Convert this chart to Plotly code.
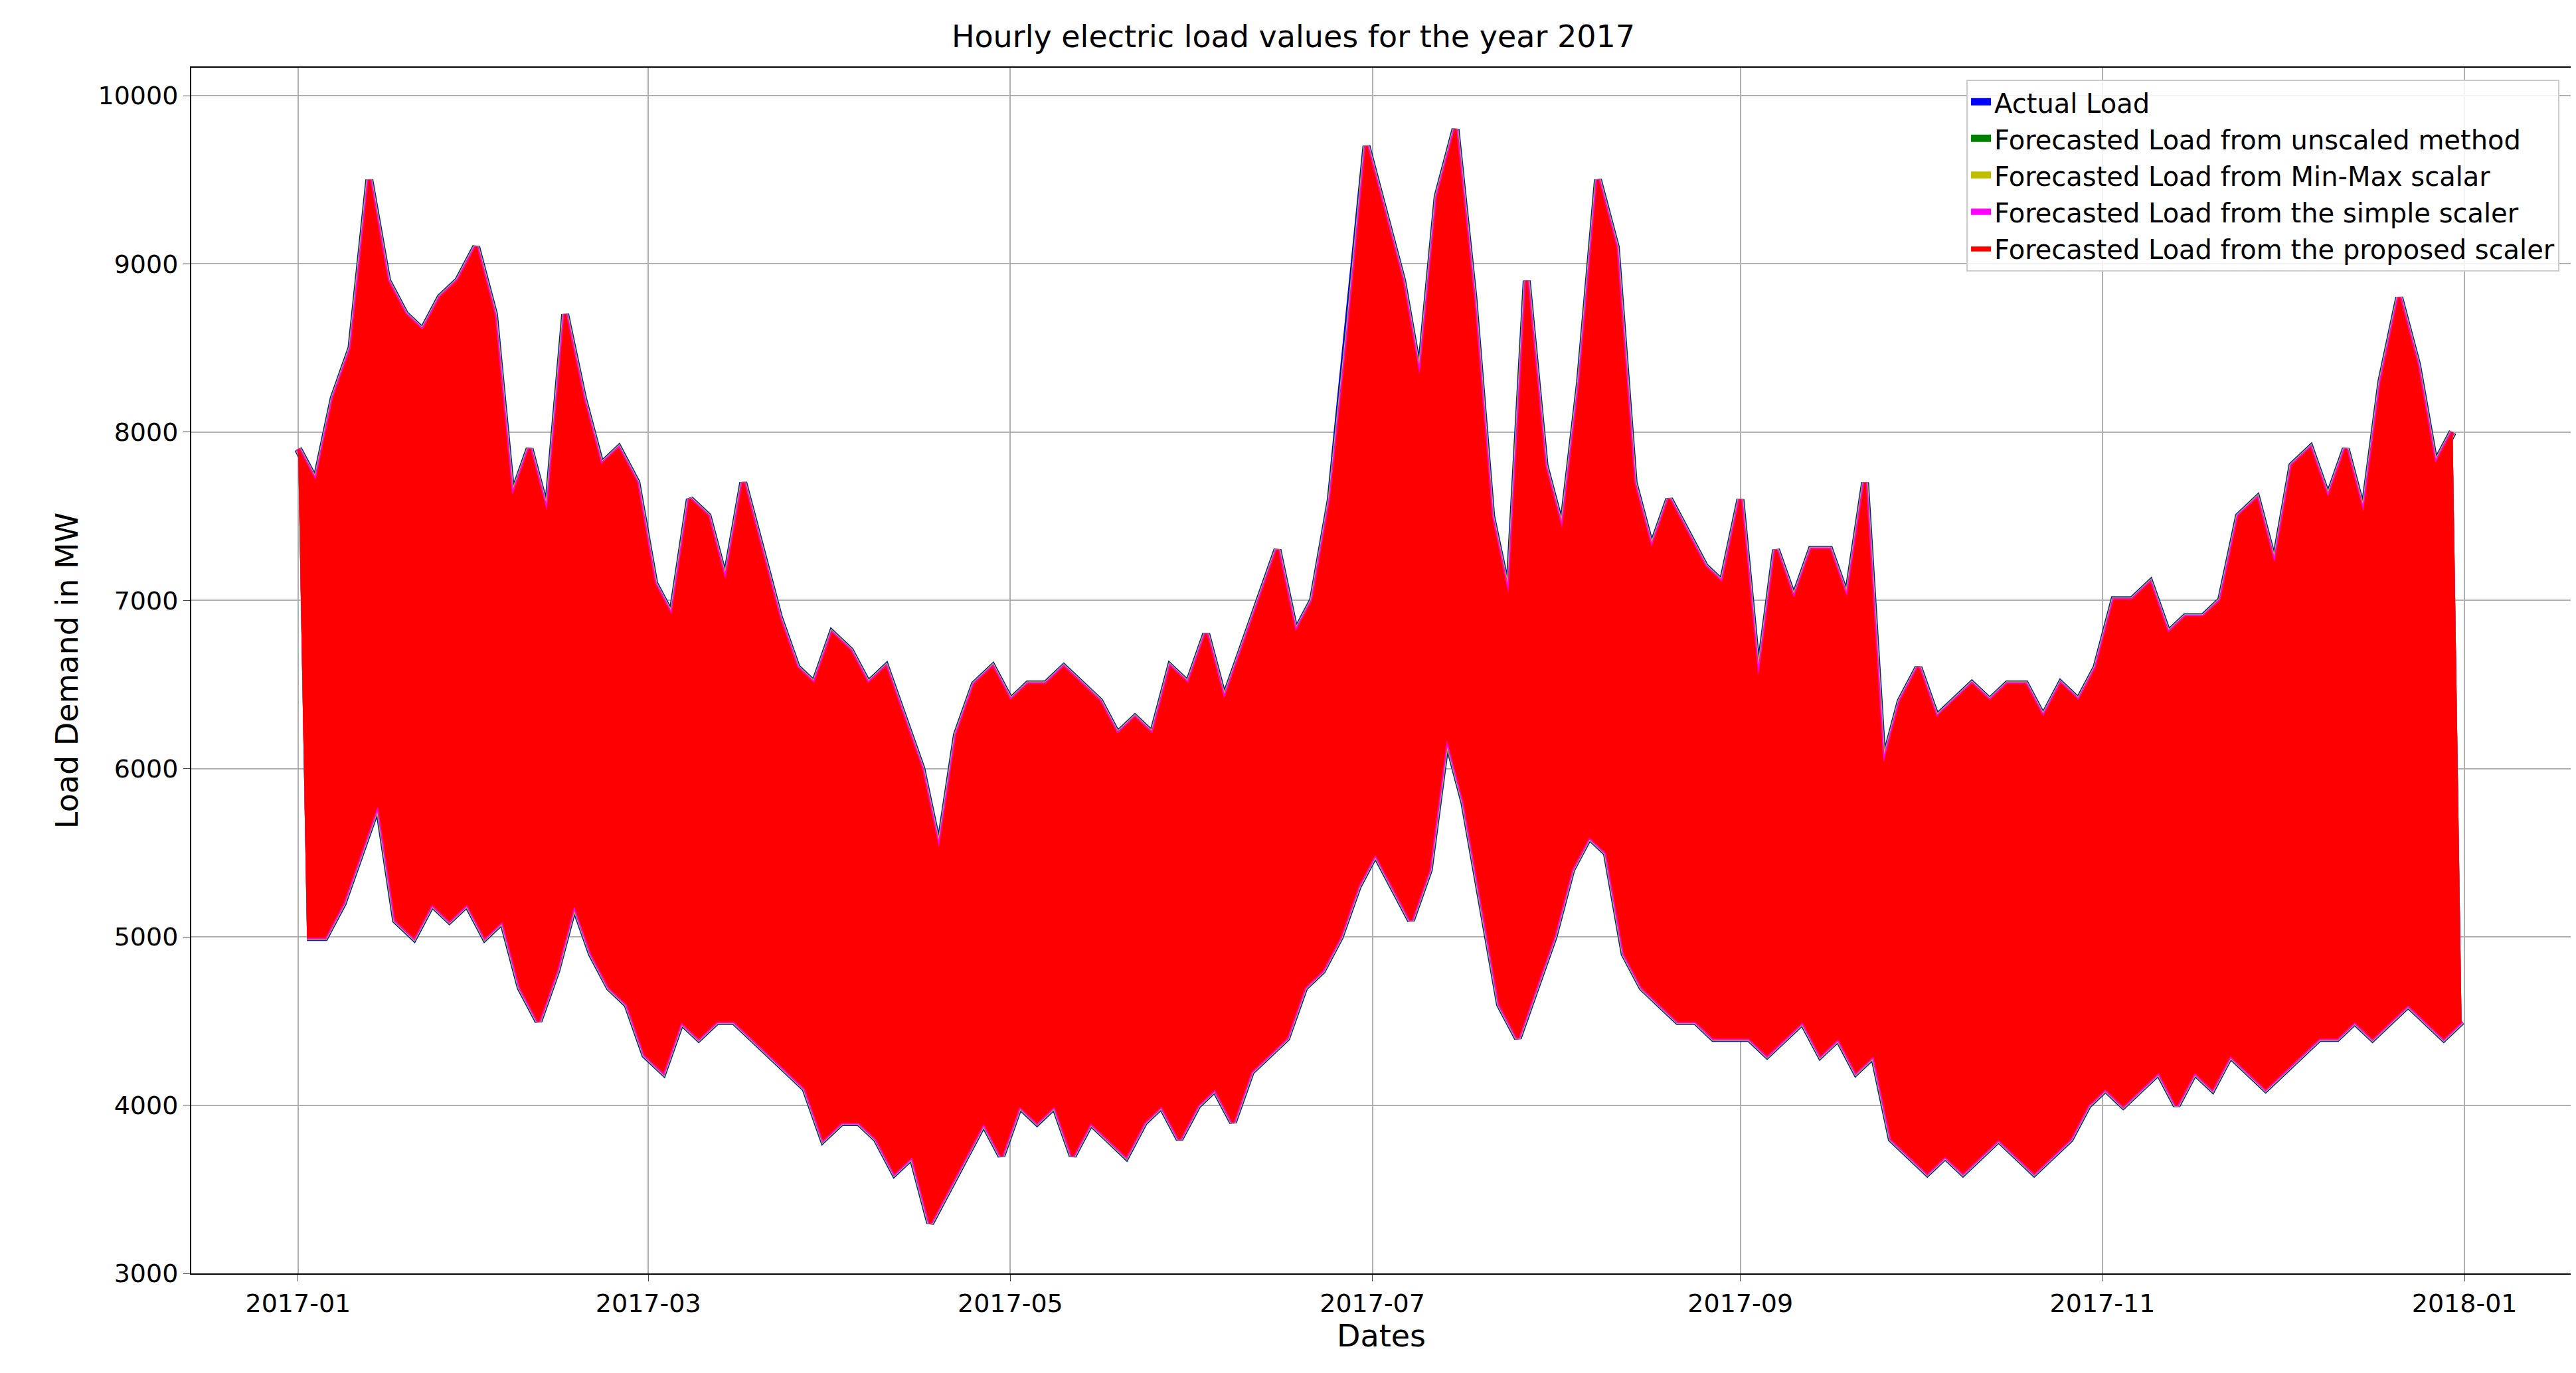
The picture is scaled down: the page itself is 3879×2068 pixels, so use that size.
import pandas as pd
import plotly.graph_objects as go

# daily peak loads, one value every 3 days starting 2017-01-01 (MW)
peak_load = [7900, 7700, 8200, 8500, 9500, 8900, 8700, 8600, 8800, 8900,
             9100, 8700, 7600, 7900, 7500, 8700, 8200, 7800, 7900, 7700,
             7100, 6900, 7600, 7500, 7100, 7700, 7300, 6900, 6600, 6500,
             6800, 6700, 6500, 6600, 6300, 6000, 5500, 6200, 6500, 6600,
             6400, 6500, 6500, 6600, 6500, 6400, 6200, 6300, 6200, 6600,
             6500, 6800, 6400, 6700, 7000, 7300, 6800, 7000, 7600, 8600,
             9700, 9300, 8900, 8300, 9400, 9800, 8800, 7500, 7000, 8900,
             7800, 7400, 8300, 9500, 9100, 7700, 7300, 7600, 7400, 7200,
             7100, 7600, 6500, 7300, 7000, 7300, 7300, 7000, 7700, 6000,
             6400, 6600, 6300, 6400, 6500, 6400, 6500, 6500, 6300, 6500,
             6400, 6600, 7000, 7000, 7100, 6800, 6900, 6900, 7000, 7500,
             7600, 7200, 7800, 7900, 7600, 7900, 7500, 8300, 8800, 8400,
             7800, 8000]

# nightly trough loads, one value every 3 days starting 2017-01-02 12:00 (MW)
trough_load = [5000, 5000, 5200, 5500, 5800, 5100, 5000, 5200, 5100, 5200,
               5000, 5100, 4700, 4500, 4800, 5200, 4900, 4700, 4600, 4300,
               4200, 4500, 4400, 4500, 4500, 4400, 4300, 4200, 4100, 3800,
               3900, 3900, 3800, 3600, 3700, 3300, 3500, 3700, 3900, 3700,
               4000, 3900, 4000, 3700, 3900, 3800, 3700, 3900, 4000, 3800,
               4000, 4100, 3900, 4200, 4300, 4400, 4700, 4800, 5000, 5300,
               5500, 5300, 5100, 5400, 6200, 5800, 5200, 4600, 4400, 4700,
               5000, 5400, 5600, 5500, 4900, 4700, 4600, 4500, 4500, 4400,
               4400, 4400, 4300, 4400, 4500, 4300, 4400, 4200, 4300, 3800,
               3700, 3600, 3700, 3600, 3700, 3800, 3700, 3600, 3700, 3800,
               4000, 4100, 4000, 4100, 4200, 4000, 4200, 4100, 4300, 4200,
               4100, 4200, 4300, 4400, 4400, 4500, 4400, 4500, 4600, 4500,
               4400, 4500]

series_names = ["Actual Load", "Forecasted Load from unscaled method",
                "Forecasted Load from Min-Max scalar",
                "Forecasted Load from the simple scaler",
                "Forecasted Load from the proposed scaler"]
series_colors = ["blue", "green", "#bfbf00", "magenta", "red"]
edge_widths = [12, 10, 9, 7, 3]

start = pd.Timestamp("2017-01-01")
peak_t = [start + pd.Timedelta(days=3 * i) for i in range(len(peak_load))]
trough_t = [start + pd.Timedelta(days=3 * i + 1.5) for i in range(len(trough_load))]

fig = go.Figure()
for name, col, w in zip(series_names, series_colors, edge_widths):
    fig.add_trace(go.Scatter(x=trough_t, y=trough_load, mode="lines",
                             line=dict(color=col, width=w), showlegend=False,
                             hoverinfo="skip"))
    fig.add_trace(go.Scatter(x=peak_t, y=peak_load, mode="lines", name=name,
                             line=dict(color=col, width=w), fill="tonexty",
                             fillcolor=col))

fig.update_layout(
    width=3879, height=2068,
    paper_bgcolor="white", plot_bgcolor="white",
    font=dict(family="DejaVu Sans", size=38, color="black"),
    title=dict(text="Hourly electric load values for the year 2017", x=0.5,
               y=0.985, xanchor="center", font=dict(size=46)),
    margin=dict(l=280, r=15, t=94, b=158),
    legend=dict(x=0.995, y=0.99, xanchor="right", yanchor="top",
                traceorder="normal", tracegroupgap=0,
                bgcolor="rgba(255,255,255,0.85)", bordercolor="#cccccc",
                borderwidth=2, font=dict(size=40)),
)
fig.update_xaxes(range=["2016-12-14", "2018-01-19"], tickformat="%Y-%m",
                 tickvals=["2017-01-01", "2017-03-01", "2017-05-01", "2017-07-01",
                           "2017-09-01", "2017-11-01", "2018-01-01"],
                 showgrid=True, gridcolor="#b0b0b0", gridwidth=2,
                 showline=True, linecolor="black", linewidth=2, mirror=True,
                 ticks="outside", ticklen=10,
                 title=dict(text="Dates", standoff=5))
fig.update_yaxes(range=[3000, 10166], dtick=1000, tickformat="d",
                 showgrid=True, gridcolor="#b0b0b0", gridwidth=2,
                 showline=True, linecolor="black", linewidth=2, mirror=True,
                 ticks="outside", ticklen=10, zeroline=False,
                 title=dict(text="Load Demand in MW", standoff=15))

fig.write_html("out.html")
